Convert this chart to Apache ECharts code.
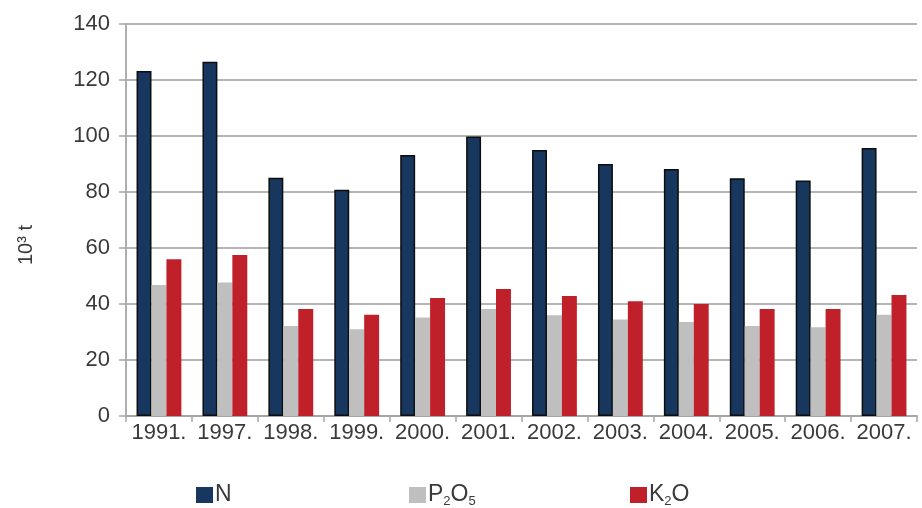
<!DOCTYPE html>
<html>
<head>
<meta charset="utf-8">
<script src="https://cdn.jsdelivr.net/npm/echarts@6/dist/echarts.min.js"></script>
<style>html,body{margin:0;padding:0;background:#fff}#c{width:922px;height:508px}</style>
</head>
<body>
<div id="c"></div>
<script>
var categories = ['1991.', '1997.', '1998.', '1999.', '2000.', '2001.', '2002.', '2003.', '2004.', '2005.', '2006.', '2007.'];
var seriesNames = ['N', 'P2O5', 'K2O'];
var valuesN = [123.2, 126.5, 85.1, 80.8, 93.2, 99.8, 95.0, 90.0, 88.2, 84.9, 84.1, 95.7];
var valuesP2O5 = [46.8, 47.7, 32.1, 31.0, 35.2, 38.2, 36.0, 34.5, 33.6, 32.1, 31.7, 36.2];
var valuesK2O = [56.0, 57.5, 38.2, 36.2, 42.1, 45.4, 42.9, 41.0, 40.0, 38.2, 38.2, 43.2];
var yTicks = [0, 20, 40, 60, 80, 100, 120, 140];

var font = '"Liberation Sans", Arial, sans-serif';
var textColor = '#3a3a3a';
var colors = ['#17375e', '#bfbfbf', '#c0202a'];

var legendRich = {
  b: { fontSize: 23, fontFamily: font, color: textColor, lineHeight: 26, verticalAlign: 'middle' },
  s: { fontSize: 13, fontFamily: font, color: textColor, lineHeight: 26, verticalAlign: 'bottom', padding: [14, 0, 0, 0] }
};
function legendFmt(name) {
  if (name === 'P2O5') return '{b|P}{s|2}{b|O}{s|5}';
  if (name === 'K2O') return '{b|K}{s|2}{b|O}';
  return '{b|' + name + '}{s|\u200b}';
}
function mkLegend(name, left) {
  return {
    data: [name], left: left, top: 476, itemWidth: 17, itemHeight: 16, itemGap: 0,
    icon: 'rect', formatter: legendFmt, selectedMode: false,
    itemStyle: { borderWidth: 0 },
    textStyle: { rich: legendRich, padding: [0, 0, 0, -3] }
  };
}

var chart = echarts.init(document.getElementById('c'));
chart.setOption({
  animation: false,
  color: colors,
  grid: { left: 126, right: 5, top: 24, bottom: 92, containLabel: false },
  legend: [mkLegend('N', 191), mkLegend('P2O5', 404), mkLegend('K2O', 625)],
  xAxis: {
    type: 'category', data: categories,
    axisLine: { lineStyle: { color: '#a6a6a6', width: 2 } },
    axisTick: { show: true, length: 6, lineStyle: { color: '#a6a6a6', width: 1.5 } },
    axisLabel: { interval: 0, fontSize: 22, fontFamily: font, color: textColor, margin: 6 }
  },
  yAxis: {
    type: 'value', min: 0, max: 140, interval: 20,
    name: '10\u00b3 t', nameLocation: 'middle', nameGap: 90, nameRotate: 90,
    nameTextStyle: { fontSize: 20, fontFamily: font, color: textColor, padding: [0, 50, 0, 0] },
    axisLine: { show: true, lineStyle: { color: '#b0b0b0', width: 2 } },
    axisTick: { show: true, length: 7, lineStyle: { color: '#a6a6a6', width: 1.5 } },
    axisLabel: { fontSize: 22, fontFamily: font, color: textColor, margin: 16,
      formatter: function (v) { return yTicks.indexOf(v) >= 0 ? String(v) : ''; } },
    splitLine: { lineStyle: { color: '#9c9c9c', width: 1.5 } }
  },
  series: [
    { name: seriesNames[0], type: 'bar', data: valuesN, barGap: '0%', barCategoryGap: '32%',
      itemStyle: { color: colors[0], borderColor: '#0d0d0d', borderWidth: 1.5 } },
    { name: seriesNames[1], type: 'bar', data: valuesP2O5, barGap: '0%', barCategoryGap: '32%',
      itemStyle: { color: colors[1] } },
    { name: seriesNames[2], type: 'bar', data: valuesK2O, barGap: '0%', barCategoryGap: '32%',
      itemStyle: { color: colors[2] } }
  ]
});
</script>
</body>
</html>
